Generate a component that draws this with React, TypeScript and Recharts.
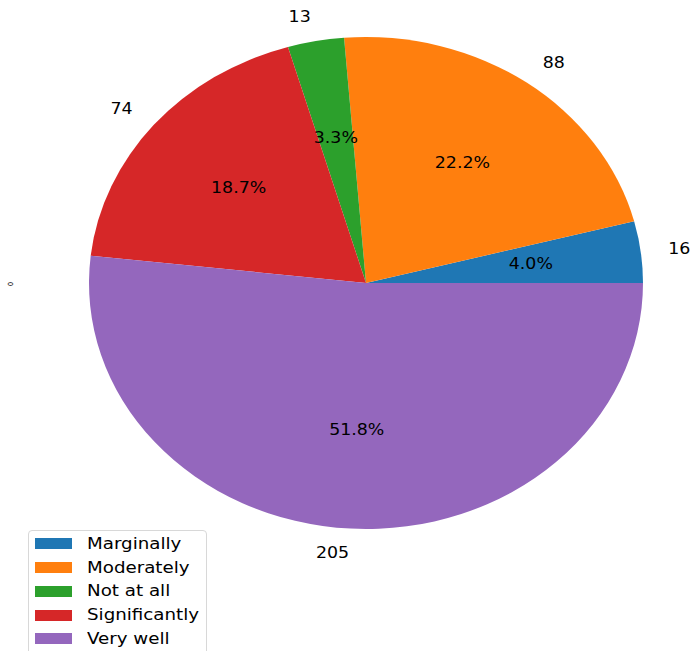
import React from 'react';
import { PieChart, Pie, Cell, Legend, Customized } from 'recharts';

const categories = ['Marginally', 'Moderately', 'Not at all', 'Significantly', 'Very well'];
const counts = [16, 88, 13, 74, 205];
const colors = ['#1f77b4', '#ff7f0e', '#2ca02c', '#d62728', '#9467bd'];
const yAxisLabel = '0';

const data = categories.map((name, i) => ({ name, value: counts[i] }));

const CX = 366;
const CY = 283;
const RY = 246;
const RX = 277;
const SX = RX / RY;
const TX = 1.16;
const RAD = Math.PI / 180;
const FONT = '"DejaVu Sans", sans-serif';

const renderLabel = (props: any) => {
  const { midAngle, percent, value } = props;
  const c = Math.cos(midAngle * RAD);
  const s = Math.sin(midAngle * RAD);
  const ox = CX + 1.1 * RX * c;
  const oy = CY - 1.1 * RY * s;
  const ix = CX + 0.6 * RX * c;
  const iy = CY - 0.6 * RY * s;
  return (
    <g>
      <text x={0} y={0} transform={`translate(${ox} ${oy}) scale(${TX} 1)`} textAnchor={c > 0 ? 'start' : 'end'}
        dominantBaseline="central" fontFamily={FONT} fontSize={15} fill="#000">{value}</text>
      <text x={0} y={0} transform={`translate(${ix} ${iy}) scale(${TX} 1)`} textAnchor="middle"
        dominantBaseline="central" fontFamily={FONT} fontSize={15} fill="#000">{(percent * 100).toFixed(1)}%</text>
    </g>
  );
};

const renderLegend = () => (
  <div style={{
    border: '1px solid #d8d8d8', borderRadius: 4, background: 'rgba(255,255,255,0.8)',
    width: 179, padding: '1px 0 12px 0', boxSizing: 'border-box', fontFamily: FONT, fontSize: 16,
  }}>
    {categories.map((c, i) => (
      <div key={c} style={{ display: 'flex', alignItems: 'center', height: 23.75 }}>
        <div style={{ width: 37, height: 11, background: colors[i], marginLeft: 6, marginRight: 15, flex: 'none' }} />
        <span style={{ color: '#000', lineHeight: '18px', display: 'inline-block', whiteSpace: 'nowrap', transform: `scaleX(${TX - 0.02})`, transformOrigin: 'left center' }}>{c}</span>
      </div>
    ))}
  </div>
);

const YLabel = () => (
  <text x={11} y={284} transform="rotate(-90 11 284)" textAnchor="middle" dominantBaseline="central"
    fontFamily={FONT} fontSize={7} fill="#000">{yAxisLabel}</text>
);

export default function App() {
  return (
    <div style={{ position: 'absolute', left: 0, top: 0, width: 694, height: 651, overflow: 'hidden', background: '#fff' }}>
      <style>{`.recharts-pie-sector path, .recharts-pie-sector .recharts-sector { transform-box: view-box; transform-origin: ${CX}px ${CY}px; transform: scaleX(${SX}); }`}</style>
      <PieChart width={694} height={651} margin={{ top: 0, right: 0, bottom: 0, left: 0 }}>
        <Pie
          data={data}
          dataKey="value"
          nameKey="name"
          cx={CX}
          cy={CY}
          outerRadius={RY}
          innerRadius={0}
          startAngle={0}
          endAngle={360}
          stroke="none"
          label={renderLabel}
          labelLine={false}
          isAnimationActive={false}
        >
          {data.map((d, i) => (
            <Cell key={d.name} fill={colors[i]} stroke="none" />
          ))}
        </Pie>
        <Legend content={renderLegend} wrapperStyle={{ left: 28, top: 530, width: 179 }} />
        <Customized component={YLabel} />
      </PieChart>
    </div>
  );
}
